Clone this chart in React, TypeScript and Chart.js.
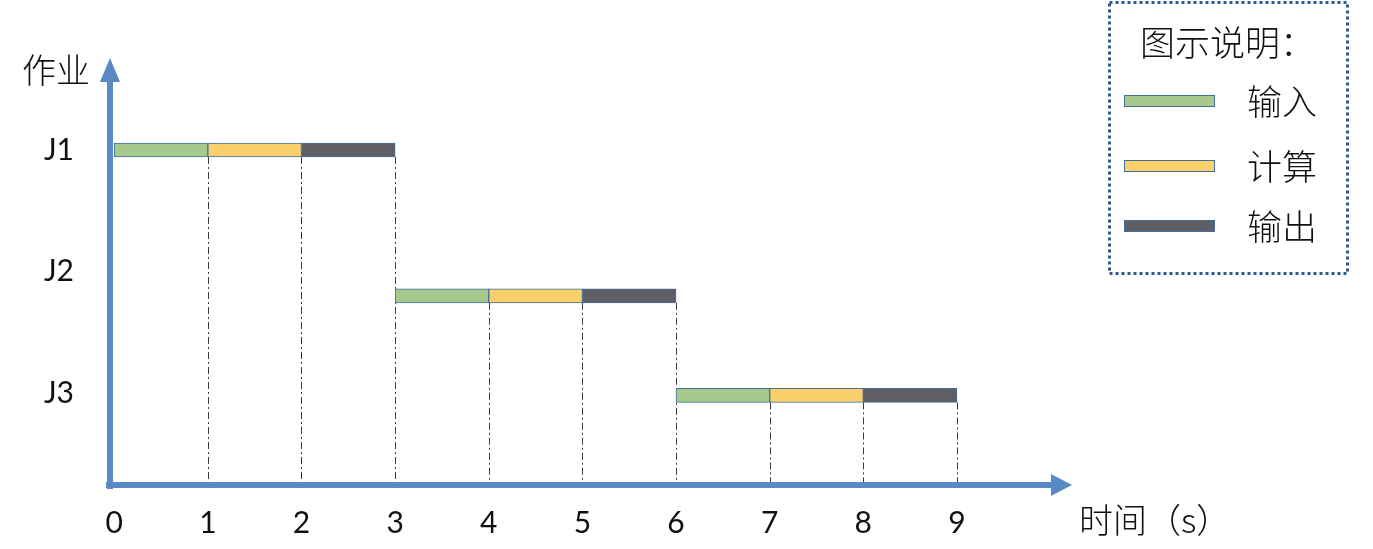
import React, { useEffect, useRef } from "react";
import { Chart, registerables } from "chart.js";

Chart.register(...registerables);

// ---- data ----
const jobLabels = ["J1", "J2", "J3"];
const jobTickPos = [3, 2, 1];
const jobRowPos = [3, 1.8, 0.98];
const phaseNames = ["输入", "计算", "输出"];
const phaseColors = ["#a7c98d", "#fbcf6c", "#5f5e64"];
const inputSpans = [[0, 1], [3, 4], [6, 7]];
const computeSpans = [[1, 2], [4, 5], [7, 8]];
const outputSpans = [[2, 3], [5, 6], [8, 9]];
const timeTicks = [0, 1, 2, 3, 4, 5, 6, 7, 8, 9];
const yTitle = "作业";
const xTitle = "时间（s）";
const legendTitle = "图示说明：";

const AXIS_BLUE = "#5a8ac6";
const CJK = '"Noto Sans CJK SC", "Noto Sans", sans-serif';
const LATIN = 'Lato, "Noto Sans", sans-serif';

const guidePlugin = {
  id: "guides",
  beforeDatasetsDraw(chart: any) {
    const ctx = chart.ctx;
    const bottom = chart.chartArea.bottom;
    ctx.save();
    ctx.strokeStyle = "#3a3a3a";
    ctx.lineWidth = 1;
    ctx.setLineDash([7, 3, 2, 3]);
    chart.data.datasets.forEach((_: any, di: number) => {
      const meta = chart.getDatasetMeta(di);
      meta.data.forEach((el: any) => {
        const p = el.getProps(["x", "y", "height"], true);
        const x = Math.round(p.x) + 0.5;
        ctx.beginPath();
        ctx.moveTo(x, p.y + p.height / 2);
        ctx.lineTo(x, bottom);
        ctx.stroke();
      });
    });
    ctx.restore();
  },
};

const axesPlugin = {
  id: "arrowAxes",
  afterDraw(chart: any) {
    const ctx = chart.ctx;
    const { left, right, top, bottom } = chart.chartArea;
    ctx.save();
    ctx.fillStyle = AXIS_BLUE;
    // y axis shaft
    ctx.fillRect(left - 3, top + 22, 6, bottom + 4 - (top + 22));
    // y arrow head
    ctx.beginPath();
    ctx.moveTo(left, top);
    ctx.lineTo(left - 10, top + 24);
    ctx.lineTo(left + 10, top + 24);
    ctx.closePath();
    ctx.fill();
    // x axis shaft
    ctx.fillRect(left - 4, bottom - 3, right - 20 - (left - 4), 6);
    // x arrow head
    ctx.beginPath();
    ctx.moveTo(right, bottom);
    ctx.lineTo(right - 21, bottom - 11);
    ctx.lineTo(right - 21, bottom + 11);
    ctx.closePath();
    ctx.fill();

    // axis titles
    ctx.fillStyle = "#111";
    ctx.textBaseline = "middle";
    ctx.textAlign = "left";
    ctx.font = `300 34px ${CJK}`;
    ctx.fillText(yTitle, 22, 70);
    ctx.font = `300 34px ${CJK}`;
    ctx.fillText(xTitle, 1079, 520);

    // legend box
    ctx.strokeStyle = "#2f5a8e";
    ctx.lineWidth = 3;
    ctx.setLineDash([3, 3]);
    ctx.strokeRect(1109.5, 2.5, 238, 271);
    ctx.setLineDash([]);
    ctx.fillStyle = "#111";
    ctx.font = `300 35px ${CJK}`;
    ctx.fillText(legendTitle, 1140, 43);
    const rows = [101, 166, 226];
    chart.data.datasets.forEach((ds: any, i: number) => {
      const cy = rows[i];
      ctx.fillStyle = ds.backgroundColor;
      ctx.fillRect(1124, cy - 6, 91, 12);
      ctx.strokeStyle = "#41719c";
      ctx.lineWidth = 1;
      ctx.strokeRect(1124.5, cy - 5.5, 90, 11);
      ctx.fillStyle = "#111";
      ctx.font = `300 35px ${CJK}`;
      ctx.fillText(ds.label, 1247, cy + 1);
    });
    ctx.restore();
  },
};

const spanData = (spans: number[][]) =>
  spans.map((s, i) => ({ x: s, y: jobRowPos[i] }));

export default function App() {
  const ref = useRef<HTMLCanvasElement | null>(null);
  useEffect(() => {
    document.body.style.margin = "0";
    const canvas = ref.current!;
    const allSpans = [inputSpans, computeSpans, outputSpans];
    const chart = new Chart(canvas, {
      type: "bar",
      data: {
        datasets: phaseNames.map((name, i) => ({
          label: name,
          data: spanData(allSpans[i]) as any,
          backgroundColor: phaseColors[i],
          borderColor: "#41719c",
          borderWidth: 1,
          borderSkipped: false,
          barThickness: 14,
          grouped: false,
        })),
      },
      options: {
        indexAxis: "y",
        animation: false,
        responsive: false,
        devicePixelRatio: 1,
        layout: { padding: { left: 0, right: 1373 - 1072, top: 58, bottom: 0 } },
        plugins: { legend: { display: false }, tooltip: { enabled: false } },
        scales: {
          x: {
            type: "linear",
            offset: false,
            min: (110 - 114.2) / 93.64,
            max: (1072 - 114.2) / 93.64,
            grid: { display: false },
            border: { display: false },
            afterBuildTicks: (s: any) => {
              s.ticks = timeTicks.map((v) => ({ value: v }));
            },
            afterFit: (s: any) => {
              s.height = 549 - 485;
            },
            ticks: {
              padding: 12,
              color: "#111",
              font: { family: LATIN, size: 30 },
              callback: (v: any) => String(v),
              maxRotation: 0,
              autoSkip: false,
            },
          },
          y: {
            type: "linear",
            offset: false,
            min: 0.243,
            max: 3.757,
            grid: { display: false, offset: false },
            border: { display: false },
            afterBuildTicks: (s: any) => {
              s.ticks = jobTickPos.map((v) => ({ value: v }));
            },
            afterFit: (s: any) => {
              s.width = 110;
            },
            ticks: {
              padding: 28,
              color: "#111",
              font: { family: LATIN, size: 30 },
              callback: (v: any) => {
                const i = jobTickPos.indexOf(Number(v));
                return i >= 0 ? jobLabels[i] : "";
              },
              autoSkip: false,
            },
          },
        },
      },
      plugins: [guidePlugin, axesPlugin],
    });
    return () => chart.destroy();
  }, []);
  return <canvas ref={ref} width={1373} height={549} style={{ display: "block" }} />;
}
